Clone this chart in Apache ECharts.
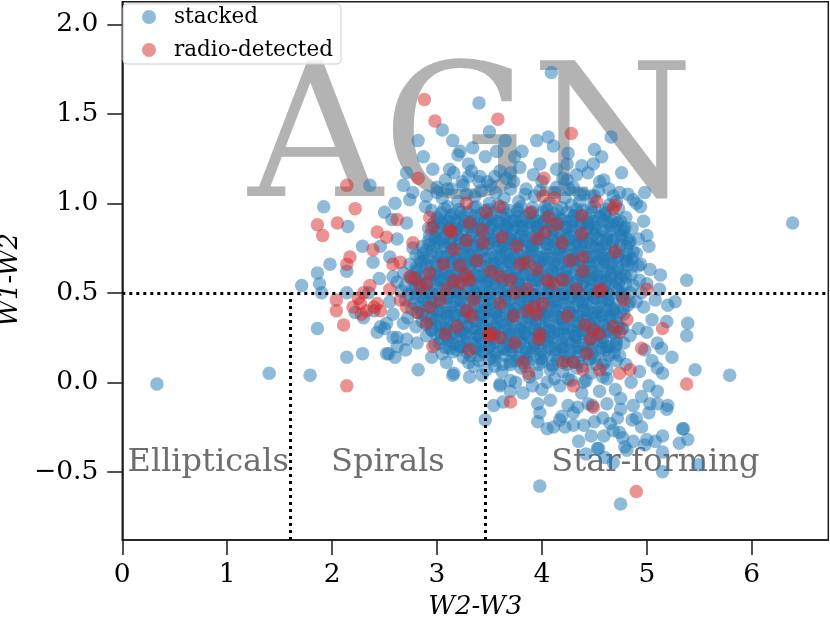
<!DOCTYPE html>
<html lang="en">
<head>
    <meta charset="UTF-8">
    <title>WISE colour-colour diagram</title>
    <script src="https://cdn.jsdelivr.net/npm/echarts@6/dist/echarts.min.js"></script>
    <style>
        html, body { margin: 0; padding: 0; background: #fff; }
        #main { width: 830px; height: 617px; }
    </style>
</head>
<body>
<div id="main"></div>
<script>
// values: [W2-W3, W1-W2]
const stackedCore = [
    [3.05,1.03],[3.2,1.01],[3.36,1.04],[3.5,1.0],[3.64,1.03],[3.78,1.01],[3.93,1.04],[4.07,1.0],[4.22,1.03],[4.36,1.01],[4.5,1.04],[4.64,0.99],
    [2.95,0.96],[3.1,0.98],[3.23,0.95],[3.37,0.98],[3.46,0.96],[3.58,0.99],[3.69,0.96],[3.8,0.98],[3.91,0.95],[4.03,0.98],[4.15,0.96],[4.28,0.99],[4.39,0.96],[4.5,0.98],[4.61,0.95],[4.73,0.97],
    [3.01,0.91],[3.13,0.93],[3.26,0.9],[3.36,0.93],[3.49,0.91],[3.61,0.93],[3.72,0.9],[3.84,0.92],[3.95,0.9],[4.07,0.93],[4.19,0.91],[4.31,0.93],[4.43,0.9],[4.55,0.92],[4.67,0.9],[4.8,0.92],
    [2.92,0.86],[3.06,0.88],[3.18,0.85],[3.3,0.87],[3.42,0.86],[3.53,0.88],[3.65,0.85],[3.76,0.87],[3.88,0.86],[3.99,0.88],[4.11,0.85],[4.23,0.87],[4.35,0.86],[4.46,0.88],[4.58,0.85],[4.7,0.87],[4.86,0.86],
    [2.98,0.81],[3.1,0.83],[3.22,0.8],[3.34,0.82],[3.46,0.81],[3.58,0.83],[3.69,0.8],[3.8,0.82],[3.92,0.81],[4.04,0.83],[4.16,0.8],[4.27,0.82],[4.39,0.81],[4.51,0.83],[4.62,0.8],[4.76,0.82],[4.92,0.8],
    [2.86,0.76],[3.02,0.78],[3.14,0.75],[3.27,0.77],[3.38,0.76],[3.5,0.78],[3.62,0.75],[3.73,0.77],[3.85,0.76],[3.97,0.78],[4.08,0.75],[4.2,0.77],[4.32,0.76],[4.43,0.78],[4.55,0.75],[4.67,0.77],[4.81,0.76],
    [2.8,0.71],[2.95,0.73],[3.08,0.7],[3.2,0.72],[3.31,0.71],[3.43,0.73],[3.55,0.7],[3.66,0.72],[3.78,0.71],[3.9,0.73],[4.01,0.7],[4.13,0.72],[4.25,0.71],[4.36,0.73],[4.48,0.7],[4.6,0.72],[4.73,0.71],[4.87,0.73],
    [2.74,0.66],[2.88,0.68],[3.0,0.65],[3.13,0.67],[3.24,0.66],[3.36,0.68],[3.48,0.65],[3.6,0.67],[3.71,0.66],[3.83,0.68],[3.95,0.65],[4.06,0.67],[4.18,0.66],[4.3,0.68],[4.41,0.65],[4.53,0.67],[4.65,0.66],[4.79,0.68],[4.94,0.66],
    [2.68,0.61],[2.82,0.63],[2.96,0.6],[3.08,0.62],[3.19,0.61],[3.31,0.63],[3.42,0.6],[3.54,0.62],[3.66,0.61],[3.77,0.63],[3.89,0.6],[4.0,0.62],[4.12,0.61],[4.24,0.63],[4.36,0.6],[4.47,0.62],[4.59,0.61],[4.72,0.63],[4.85,0.6],
    [2.62,0.56],[2.76,0.58],[2.9,0.55],[3.03,0.57],[3.14,0.56],[3.26,0.58],[3.37,0.55],[3.49,0.57],[3.61,0.56],[3.72,0.58],[3.84,0.55],[3.96,0.57],[4.07,0.56],[4.19,0.58],[4.31,0.55],[4.42,0.57],[4.54,0.56],[4.66,0.58],[4.8,0.55],[4.93,0.57],
    [2.66,0.51],[2.8,0.53],[2.93,0.5],[3.06,0.52],[3.18,0.51],[3.3,0.53],[3.41,0.5],[3.53,0.52],[3.65,0.51],[3.76,0.53],[3.88,0.5],[4.0,0.52],[4.11,0.51],[4.23,0.53],[4.35,0.5],[4.46,0.52],[4.58,0.51],[4.7,0.53],[4.84,0.5],
    [2.7,0.46],[2.85,0.48],[2.98,0.45],[3.1,0.47],[3.22,0.46],[3.34,0.48],[3.46,0.45],[3.58,0.47],[3.69,0.46],[3.81,0.48],[3.93,0.45],[4.04,0.47],[4.16,0.46],[4.28,0.48],[4.39,0.45],[4.51,0.47],[4.63,0.46],[4.76,0.48],[4.9,0.45],
    [2.76,0.41],[2.9,0.43],[3.03,0.4],[3.15,0.42],[3.27,0.41],[3.39,0.43],[3.51,0.4],[3.63,0.42],[3.74,0.41],[3.86,0.43],[3.98,0.4],[4.09,0.42],[4.21,0.41],[4.33,0.43],[4.44,0.4],[4.56,0.42],[4.68,0.41],[4.82,0.43],
    [2.72,0.36],[2.86,0.38],[2.99,0.35],[3.11,0.37],[3.23,0.36],[3.35,0.38],[3.47,0.35],[3.59,0.37],[3.7,0.36],[3.82,0.38],[3.94,0.35],[4.05,0.37],[4.17,0.36],[4.29,0.38],[4.4,0.35],[4.52,0.37],[4.64,0.36],[4.78,0.38],
    [2.8,0.31],[2.94,0.33],[3.07,0.3],[3.19,0.32],[3.31,0.31],[3.43,0.33],[3.55,0.3],[3.66,0.32],[3.78,0.31],[3.9,0.33],[4.01,0.3],[4.13,0.32],[4.25,0.31],[4.36,0.33],[4.48,0.3],[4.6,0.32],[4.73,0.31],
    [2.9,0.26],[3.03,0.28],[3.15,0.25],[3.27,0.27],[3.39,0.26],[3.51,0.28],[3.62,0.25],[3.74,0.27],[3.86,0.26],[3.97,0.28],[4.09,0.25],[4.21,0.27],[4.32,0.26],[4.44,0.28],[4.56,0.25],[4.69,0.27],[4.84,0.26],
    [2.98,0.21],[3.11,0.23],[3.23,0.2],[3.35,0.22],[3.47,0.21],[3.58,0.23],[3.7,0.2],[3.82,0.22],[3.93,0.21],[4.05,0.23],[4.17,0.2],[4.28,0.22],[4.4,0.21],[4.52,0.23],[4.65,0.2],[4.78,0.22],
    [3.05,0.16],[3.19,0.18],[3.32,0.15],[3.44,0.17],[3.55,0.16],[3.67,0.18],[3.79,0.15],[3.9,0.17],[4.02,0.16],[4.13,0.18],[4.25,0.15],[4.36,0.17],[4.48,0.16],[4.61,0.18],[4.74,0.15],
    [3.3,0.11],[3.5,0.13],[3.63,0.1],[3.75,0.12],[3.87,0.11],[3.99,0.13],[4.1,0.1],[4.22,0.12],[4.34,0.11],[4.46,0.13],[4.58,0.1],[4.71,0.12],
    [3.62,0.06],[3.8,0.08],[3.95,0.05],[4.08,0.07],[4.2,0.06],[4.33,0.08],[4.47,0.05],[4.62,0.07],
    [3.7,0.01],[3.88,0.03],[4.05,0.0],[4.25,0.02],[4.42,0.01],[4.58,0.03]
];

const stackedCoreInner = [
    [3.04,0.945],[3.16,0.94],[3.29,0.95],[3.42,0.94],[3.54,0.95],[3.66,0.94],[3.77,0.95],[3.89,0.94],[4.01,0.95],[4.12,0.94],[4.24,0.95],[4.36,0.94],[4.48,0.95],[4.6,0.94],
    [2.97,0.89],[3.1,0.9],[3.22,0.89],[3.33,0.9],[3.45,0.89],[3.57,0.9],[3.68,0.89],[3.8,0.9],[3.92,0.89],[4.03,0.9],[4.15,0.89],[4.27,0.9],[4.39,0.89],[4.5,0.9],[4.63,0.89],[4.75,0.9],
    [3.0,0.84],[3.12,0.85],[3.24,0.84],[3.36,0.85],[3.48,0.84],[3.59,0.85],[3.71,0.84],[3.82,0.85],[3.94,0.84],[4.05,0.85],[4.17,0.84],[4.29,0.85],[4.41,0.84],[4.52,0.85],[4.64,0.84],[4.78,0.85],
    [2.92,0.79],[3.04,0.8],[3.16,0.79],[3.28,0.8],[3.4,0.79],[3.52,0.8],[3.63,0.79],[3.75,0.8],[3.86,0.79],[3.98,0.8],[4.1,0.79],[4.22,0.8],[4.33,0.79],[4.45,0.8],[4.57,0.79],[4.69,0.8],[4.84,0.79],
    [2.9,0.74],[3.08,0.75],[3.2,0.74],[3.32,0.75],[3.44,0.74],[3.56,0.75],[3.67,0.74],[3.79,0.75],[3.91,0.74],[4.02,0.75],[4.14,0.74],[4.26,0.75],[4.38,0.74],[4.49,0.75],[4.61,0.74],[4.74,0.75],
    [2.84,0.69],[3.01,0.7],[3.14,0.69],[3.26,0.7],[3.37,0.69],[3.49,0.7],[3.61,0.69],[3.72,0.7],[3.84,0.69],[3.96,0.7],[4.07,0.69],[4.19,0.7],[4.31,0.69],[4.42,0.7],[4.54,0.69],[4.66,0.7],[4.8,0.69],
    [2.8,0.64],[2.94,0.65],[3.07,0.64],[3.19,0.65],[3.3,0.64],[3.42,0.65],[3.54,0.64],[3.65,0.65],[3.77,0.64],[3.89,0.65],[4.0,0.64],[4.12,0.65],[4.24,0.64],[4.36,0.65],[4.47,0.64],[4.59,0.65],[4.72,0.64],[4.86,0.65],
    [2.75,0.59],[2.89,0.6],[3.02,0.59],[3.14,0.6],[3.25,0.59],[3.37,0.6],[3.48,0.59],[3.6,0.6],[3.72,0.59],[3.83,0.6],[3.95,0.59],[4.06,0.6],[4.18,0.59],[4.3,0.6],[4.42,0.59],[4.53,0.6],[4.65,0.59],[4.78,0.6],
    [2.7,0.54],[2.83,0.55],[2.97,0.54],[3.09,0.55],[3.2,0.54],[3.32,0.55],[3.43,0.54],[3.55,0.55],[3.67,0.54],[3.78,0.55],[3.9,0.54],[4.02,0.55],[4.13,0.54],[4.25,0.55],[4.37,0.54],[4.48,0.55],[4.6,0.54],[4.73,0.55],[4.87,0.54],
    [2.73,0.49],[2.87,0.5],[3.0,0.49],[3.12,0.5],[3.24,0.49],[3.36,0.5],[3.47,0.49],[3.59,0.5],[3.71,0.49],[3.82,0.5],[3.94,0.49],[4.06,0.5],[4.17,0.49],[4.29,0.5],[4.41,0.49],[4.52,0.5],[4.64,0.49],[4.77,0.5],
    [2.78,0.44],[2.92,0.45],[3.04,0.44],[3.16,0.45],[3.28,0.44],[3.4,0.45],[3.52,0.44],[3.64,0.45],[3.75,0.44],[3.87,0.45],[3.99,0.44],[4.1,0.45],[4.22,0.44],[4.34,0.45],[4.45,0.44],[4.57,0.45],[4.7,0.44],[4.84,0.45],
    [2.82,0.39],[2.96,0.4],[3.09,0.39],[3.21,0.4],[3.33,0.39],[3.45,0.4],[3.57,0.39],[3.69,0.4],[3.8,0.39],[3.92,0.4],[4.04,0.39],[4.15,0.4],[4.27,0.39],[4.39,0.4],[4.5,0.39],[4.62,0.4],[4.75,0.39],
    [2.86,0.34],[3.0,0.35],[3.13,0.34],[3.25,0.35],[3.37,0.34],[3.49,0.35],[3.61,0.34],[3.72,0.35],[3.84,0.34],[3.96,0.35],[4.07,0.34],[4.19,0.35],[4.31,0.34],[4.42,0.35],[4.54,0.34],[4.66,0.35],
    [2.95,0.29],[3.09,0.3],[3.21,0.29],[3.33,0.3],[3.45,0.29],[3.57,0.3],[3.68,0.29],[3.8,0.3],[3.92,0.29],[4.03,0.3],[4.15,0.29],[4.27,0.3],[4.38,0.29],[4.5,0.3],[4.62,0.29],[4.76,0.3],
    [3.04,0.24],[3.17,0.25],[3.29,0.24],[3.41,0.25],[3.53,0.24],[3.64,0.25],[3.76,0.24],[3.88,0.25],[3.99,0.24],[4.11,0.25],[4.23,0.24],[4.34,0.25],[4.46,0.24],[4.58,0.25],[4.71,0.24],
    [3.12,0.19],[3.26,0.2],[3.38,0.19],[3.5,0.2],[3.62,0.19],[3.73,0.2],[3.85,0.19],[3.96,0.2],[4.08,0.19],[4.2,0.2],[4.32,0.19],[4.44,0.2],[4.57,0.19],[4.7,0.2],
    [3.25,0.14],[3.4,0.15],[3.53,0.14],[3.65,0.15],[3.77,0.14],[3.88,0.15],[4.0,0.14],[4.12,0.15],[4.24,0.14],[4.36,0.15],[4.5,0.14],[4.64,0.15],
    [3.55,0.09],[3.7,0.1],[3.84,0.09],[3.97,0.1],[4.1,0.09],[4.24,0.1],[4.38,0.09],[4.52,0.1]
];

const stackedCentre = [
    [3.03,0.86],[3.19,0.86],[3.34,0.87],[3.5,0.86],[3.65,0.87],[3.81,0.86],[3.96,0.87],[4.12,0.86],[4.27,0.87],[4.43,0.86],
    [2.97,0.76],[3.12,0.77],[3.28,0.76],[3.43,0.77],[3.59,0.76],[3.74,0.77],[3.9,0.76],[4.05,0.77],[4.21,0.76],[4.36,0.77],[4.52,0.76],
    [2.9,0.66],[3.06,0.67],[3.21,0.66],[3.37,0.67],[3.52,0.66],[3.68,0.67],[3.83,0.66],[3.99,0.67],[4.14,0.66],[4.3,0.67],[4.45,0.66],[4.61,0.67],
    [2.85,0.56],[3.0,0.57],[3.16,0.56],[3.31,0.57],[3.47,0.56],[3.62,0.57],[3.78,0.56],[3.93,0.57],[4.09,0.56],[4.24,0.57],[4.4,0.56],[4.55,0.57],[4.7,0.56],
    [2.88,0.46],[3.03,0.47],[3.19,0.46],[3.34,0.47],[3.5,0.46],[3.65,0.47],[3.81,0.46],[3.96,0.47],[4.12,0.46],[4.27,0.47],[4.43,0.46],[4.58,0.47],
    [2.95,0.36],[3.1,0.37],[3.26,0.36],[3.41,0.37],[3.57,0.36],[3.72,0.37],[3.88,0.36],[4.03,0.37],[4.19,0.36],[4.34,0.37],[4.5,0.36],[4.65,0.37],
    [3.08,0.26],[3.23,0.27],[3.39,0.26],[3.54,0.27],[3.7,0.26],[3.85,0.27],[4.01,0.26],[4.16,0.27],[4.32,0.26],[4.47,0.27]
];

const stackedDense = [
    [3.0,0.92],[3.13,0.915],[3.26,0.925],[3.39,0.915],[3.52,0.925],[3.65,0.915],[3.78,0.925],[3.91,0.915],[4.04,0.925],[4.17,0.915],[4.3,0.925],[4.43,0.915],[4.56,0.925],[4.69,0.915],
    [2.93,0.82],[3.06,0.815],[3.19,0.825],[3.32,0.815],[3.45,0.825],[3.58,0.815],[3.71,0.825],[3.84,0.815],[3.97,0.825],[4.1,0.815],[4.23,0.825],[4.36,0.815],[4.49,0.825],[4.62,0.815],[4.75,0.825],
    [2.87,0.72],[3.0,0.715],[3.13,0.725],[3.26,0.715],[3.39,0.725],[3.52,0.715],[3.65,0.725],[3.78,0.715],[3.91,0.725],[4.04,0.715],[4.17,0.725],[4.3,0.715],[4.43,0.725],[4.56,0.715],[4.69,0.725],[4.82,0.715],
    [2.8,0.62],[2.93,0.615],[3.06,0.625],[3.19,0.615],[3.32,0.625],[3.45,0.615],[3.58,0.625],[3.71,0.615],[3.84,0.625],[3.97,0.615],[4.1,0.625],[4.23,0.615],[4.36,0.625],[4.49,0.615],[4.62,0.625],[4.75,0.615],
    [2.77,0.52],[2.9,0.515],[3.03,0.525],[3.16,0.515],[3.29,0.525],[3.42,0.515],[3.55,0.525],[3.68,0.515],[3.81,0.525],[3.94,0.515],[4.07,0.525],[4.2,0.515],[4.33,0.525],[4.46,0.515],[4.59,0.525],[4.72,0.515],
    [2.83,0.42],[2.96,0.415],[3.09,0.425],[3.22,0.415],[3.35,0.425],[3.48,0.415],[3.61,0.425],[3.74,0.415],[3.87,0.425],[4.0,0.415],[4.13,0.425],[4.26,0.415],[4.39,0.425],[4.52,0.415],[4.65,0.425],[4.78,0.415],
    [2.9,0.32],[3.03,0.315],[3.16,0.325],[3.29,0.315],[3.42,0.325],[3.55,0.315],[3.68,0.325],[3.81,0.315],[3.94,0.325],[4.07,0.315],[4.2,0.325],[4.33,0.315],[4.46,0.325],[4.59,0.315],[4.72,0.325],
    [3.02,0.22],[3.15,0.215],[3.28,0.225],[3.41,0.215],[3.54,0.225],[3.67,0.215],[3.8,0.225],[3.93,0.215],[4.06,0.225],[4.19,0.215],[4.32,0.225],[4.45,0.215],[4.58,0.225],[4.71,0.215],
    [3.4,0.12],[3.55,0.125],[3.7,0.115],[3.85,0.125],[4.0,0.115],[4.15,0.125],[4.3,0.115],[4.45,0.125],[4.6,0.115]
];

const stackedDeep = [
    [3.07,0.97],[3.21,0.965],[3.35,0.975],[3.49,0.965],[3.63,0.975],[3.77,0.965],[3.91,0.975],[4.05,0.965],[4.19,0.975],[4.33,0.965],[4.47,0.975],[4.61,0.965],
    [2.97,0.87],[3.11,0.865],[3.25,0.875],[3.39,0.865],[3.53,0.875],[3.67,0.865],[3.81,0.875],[3.95,0.865],[4.09,0.875],[4.23,0.865],[4.37,0.875],[4.51,0.865],[4.65,0.875],[4.79,0.865],
    [2.93,0.77],[3.07,0.765],[3.21,0.775],[3.35,0.765],[3.49,0.775],[3.63,0.765],[3.77,0.775],[3.91,0.765],[4.05,0.775],[4.19,0.765],[4.33,0.775],[4.47,0.765],[4.61,0.775],[4.75,0.765],
    [2.85,0.67],[2.99,0.665],[3.13,0.675],[3.27,0.665],[3.41,0.675],[3.55,0.665],[3.69,0.675],[3.83,0.665],[3.97,0.675],[4.11,0.665],[4.25,0.675],[4.39,0.665],[4.53,0.675],[4.67,0.665],[4.81,0.675],
    [2.79,0.57],[2.93,0.565],[3.07,0.575],[3.21,0.565],[3.35,0.575],[3.49,0.565],[3.63,0.575],[3.77,0.565],[3.91,0.575],[4.05,0.565],[4.19,0.575],[4.33,0.565],[4.47,0.575],[4.61,0.565],[4.75,0.575],
    [2.81,0.47],[2.95,0.465],[3.09,0.475],[3.23,0.465],[3.37,0.475],[3.51,0.465],[3.65,0.475],[3.79,0.465],[3.93,0.475],[4.07,0.465],[4.21,0.475],[4.35,0.465],[4.49,0.475],[4.63,0.465],[4.77,0.475],
    [2.89,0.37],[3.03,0.365],[3.17,0.375],[3.31,0.365],[3.45,0.375],[3.59,0.365],[3.73,0.375],[3.87,0.365],[4.01,0.375],[4.15,0.365],[4.29,0.375],[4.43,0.365],[4.57,0.375],[4.71,0.365],
    [2.99,0.27],[3.13,0.265],[3.27,0.275],[3.41,0.265],[3.55,0.275],[3.69,0.265],[3.83,0.275],[3.97,0.265],[4.11,0.275],[4.25,0.265],[4.39,0.275],[4.53,0.265],[4.67,0.275],
    [3.15,0.17],[3.29,0.165],[3.43,0.175],[3.57,0.165],[3.71,0.175],[3.85,0.165],[3.99,0.175],[4.13,0.165],[4.27,0.175],[4.41,0.165],[4.55,0.175],[4.69,0.165],
    [3.04,0.895],[3.18,0.9],[3.32,0.89],[3.46,0.9],[3.6,0.89],[3.74,0.9],[3.88,0.89],[4.02,0.9],[4.16,0.89],[4.3,0.9],[4.44,0.89],[4.58,0.9],[4.72,0.89],
    [2.99,0.795],[3.13,0.8],[3.27,0.79],[3.41,0.8],[3.55,0.79],[3.69,0.8],[3.83,0.79],[3.97,0.8],[4.11,0.79],[4.25,0.8],[4.39,0.79],[4.53,0.8],[4.67,0.79],[4.81,0.8],
    [2.9,0.695],[3.04,0.7],[3.18,0.69],[3.32,0.7],[3.46,0.69],[3.6,0.7],[3.74,0.69],[3.88,0.7],[4.02,0.69],[4.16,0.7],[4.3,0.69],[4.44,0.7],[4.58,0.69],[4.72,0.7],[4.86,0.69],
    [2.84,0.595],[2.98,0.6],[3.12,0.59],[3.26,0.6],[3.4,0.59],[3.54,0.6],[3.68,0.59],[3.82,0.6],[3.96,0.59],[4.1,0.6],[4.24,0.59],[4.38,0.6],[4.52,0.59],[4.66,0.6],[4.8,0.59],
    [2.8,0.495],[2.94,0.5],[3.08,0.49],[3.22,0.5],[3.36,0.49],[3.5,0.5],[3.64,0.49],[3.78,0.5],[3.92,0.49],[4.06,0.5],[4.2,0.49],[4.34,0.5],[4.48,0.49],[4.62,0.5],[4.76,0.49],
    [2.86,0.395],[3.0,0.4],[3.14,0.39],[3.28,0.4],[3.42,0.39],[3.56,0.4],[3.7,0.39],[3.84,0.4],[3.98,0.39],[4.12,0.4],[4.26,0.39],[4.4,0.4],[4.54,0.39],[4.68,0.4],
    [2.95,0.295],[3.09,0.3],[3.23,0.29],[3.37,0.3],[3.51,0.29],[3.65,0.3],[3.79,0.29],[3.93,0.3],[4.07,0.29],[4.21,0.3],[4.35,0.29],[4.49,0.3],[4.63,0.29],[4.77,0.3],
    [3.08,0.195],[3.22,0.2],[3.36,0.19],[3.5,0.2],[3.64,0.19],[3.78,0.2],[3.92,0.19],[4.06,0.2],[4.2,0.19],[4.34,0.2],[4.48,0.19],[4.62,0.2]
];

const stackedUpper = [
    [3.0,1.06],[3.14,1.08],[3.28,1.05],[3.42,1.07],[3.56,1.06],[3.7,1.08],[3.84,1.05],[3.98,1.07],[4.12,1.06],[4.26,1.08],[4.4,1.05],[4.54,1.07],[4.68,1.04],
    [3.08,1.13],[3.3,1.15],[3.48,1.12],[3.66,1.14],[3.92,1.16],[4.2,1.14],[4.44,1.17]
];

const stackedOuter = [
    [0.33,-0.01],[1.40,0.05],[1.79,0.04],[1.71,0.54],[1.98,0.66],[1.86,0.61],[1.88,0.55],[1.90,0.50],[1.86,0.30],
    [2.14,0.14],[2.29,0.16],[2.14,0.62],[2.14,0.50],[2.29,0.76],[2.39,0.67],[2.60,0.14],[2.82,0.07],[2.52,0.16],[2.46,0.31],
    [2.22,0.39],[2.43,0.28],[2.52,0.33],[2.58,0.25],[2.62,0.20],[2.54,0.16],[2.71,0.24],[2.81,0.22],[2.95,0.14],[3.09,0.11],
    [3.16,0.05],[3.35,0.09],[3.47,0.07],[3.60,-0.01],[3.15,0.04],[3.31,0.03],[3.43,0.04],
    [2.35,0.50],[2.45,0.58],[2.40,0.40],[2.55,0.45],[2.50,0.30],[2.62,0.25],[2.70,0.18],[2.58,0.38],[2.30,0.36],[2.68,0.33],
    [1.92,0.98],[2.15,0.87],[2.36,1.10],[2.57,0.91],[2.68,1.10],[2.71,1.17],[2.77,1.06],[2.74,1.02],[2.60,1.00],[2.50,0.95],[2.62,0.80],[2.55,0.70],
    [2.46,0.76],[2.58,0.59],[2.77,0.75],[2.71,0.89],[2.89,0.98],[2.87,1.26],[2.90,1.04],[3.00,1.09],[2.96,1.19],[2.82,1.35],
    [3.40,1.56],[3.05,1.41],[3.34,1.31],[3.22,1.29],[3.12,1.19],[3.20,1.27],[3.30,1.22],[3.16,1.17],[3.33,1.18],[3.24,1.12],
    [3.41,1.15],[3.51,1.10],[3.60,1.18],[3.73,1.12],[3.79,1.20],[3.98,1.22],[4.14,1.19],[4.33,1.16],[4.59,1.13],[4.74,1.06],
    [3.46,1.26],[3.57,1.29],[3.74,1.26],[3.81,1.29],[3.95,1.35],[4.06,1.37],[4.11,1.32],[3.65,1.35],[3.50,1.40],[3.15,1.35],
    [4.24,1.22],[4.38,1.21],[4.49,1.22],[4.57,1.26],[4.64,1.08],[4.76,1.17],[4.98,1.06],[4.24,1.13],[4.14,1.09],[4.30,1.09],
    [4.36,1.05],[4.47,1.04],[4.87,1.02],[4.94,0.98],[4.09,1.73],[4.66,1.37],[4.25,1.28],[4.50,1.30],[4.71,1.01],[6.39,0.89],
    [3.10,1.08],[3.25,1.10],[3.40,1.12],[3.55,1.15],[3.70,1.17],[3.85,1.08],[4.00,1.12],[4.55,1.12],[4.82,1.05],[4.90,1.00],
    [5.00,0.82],[5.02,0.76],[4.83,0.78],[4.75,0.85],[4.90,0.72],[4.82,0.66],[5.13,0.60],[5.38,0.57],[5.03,0.63],[4.97,0.90],
    [4.92,0.65],[4.95,0.50],[5.00,0.55],[5.08,0.46],[5.12,0.52],[4.97,0.42],[4.92,0.30],[5.00,0.28],[5.05,0.35],[5.10,0.22],
    [5.05,0.12],[4.98,0.18],[5.15,0.05],[5.20,0.43],[5.27,0.45],[5.39,0.33],[5.38,0.26],[5.19,0.34],[5.24,0.14],[5.14,0.19],
    [5.46,0.07],[5.79,0.04],[5.10,0.08],[4.80,0.10],[4.93,0.06],[4.85,0.00],[4.70,-0.04],[4.62,0.02],[4.55,-0.05],[4.40,0.00],
    [4.38,-0.06],[4.28,0.01],[4.12,0.02],[4.00,-0.04],[3.82,-0.06],[3.75,0.00],[3.70,-0.05],[3.91,-0.02],[4.17,-0.02],[4.95,-0.08],
    [5.20,-0.13],[5.19,-0.15],[5.10,-0.12],[5.03,-0.12],[5.02,-0.17],[4.87,-0.13],[4.86,-0.21],[4.75,-0.15],[4.75,-0.09],[5.10,-0.05],
    [5.02,-0.02],[5.35,-0.26],[5.39,-0.32],[5.31,-0.34],[5.15,-0.30],[5.08,-0.33],[5.15,-0.39],[4.98,-0.35],[4.87,-0.33],[4.81,-0.38],
    [4.77,-0.31],[4.68,-0.27],[4.59,-0.30],[4.47,-0.30],[4.53,-0.37],[5.15,-0.50],[5.49,-0.46],[3.98,-0.58],[4.75,-0.68],[4.05,-0.26],
    [3.96,-0.22],[3.98,-0.17],[4.22,-0.25],[4.30,-0.24],[4.19,-0.19],[4.34,-0.14],[4.44,-0.12],[4.58,-0.20],[4.65,-0.23],[3.46,-0.21],
    [3.54,-0.13],[3.63,-0.11],[3.96,-0.12],[4.08,-0.10],[4.25,-0.13],[3.60,-0.02],[4.48,-0.13],[4.68,-0.45],[4.54,-0.37],[5.34,-0.26],
    [4.90,-0.20],[4.95,-0.25],[4.72,-0.20],[4.62,-0.12],[4.50,-0.22],[4.40,-0.24],[4.35,-0.33],[4.60,-0.42],[4.42,-0.40],[4.79,-0.36],
    [4.74,-0.28],[5.00,-0.32],[4.11,-0.25],[4.17,-0.21],[4.30,-0.17]
];

const radioDetected = [
    [2.88,1.58],[2.98,1.46],[3.58,1.47],[4.28,1.39],[2.82,1.14],[2.14,1.10],[4.02,1.14],[4.12,1.03],[4.01,1.04],
    [2.22,0.97],[1.86,0.88],[1.91,0.82],[2.05,0.89],[2.43,0.84],[2.52,0.81],[2.62,0.91],[2.39,0.74],[2.17,0.70],[2.14,0.66],
    [2.77,0.78],[2.58,0.66],[2.65,0.67],[2.93,0.92],[2.95,0.86],[3.14,0.84],[3.16,0.74],[3.28,0.79],[3.31,0.89],[3.43,0.85],
    [3.44,0.78],[3.47,0.95],[3.60,0.98],[3.62,0.81],[3.89,0.95],[4.03,0.84],[4.06,0.92],[4.14,0.88],[4.19,0.78],[4.38,0.83],
    [4.38,0.93],[4.52,1.01],[4.68,0.97],[4.70,0.99],[4.70,0.73],[3.28,1.00],[3.12,0.85],[3.76,0.76],[3.95,0.80],[4.27,0.68],
    [4.39,0.62],[4.39,0.70],[2.36,0.54],[2.46,0.40],[2.43,0.44],[2.04,0.46],[2.04,0.40],[2.11,0.32],[2.27,0.44],[2.33,0.40],
    [2.30,0.50],[2.25,0.47],[2.40,0.42],[2.20,0.42],[2.28,0.38],[2.55,0.52],[2.65,0.46],[2.71,0.42],[2.81,0.39],[2.93,0.42],
    [3.03,0.46],[3.09,0.52],[3.16,0.57],[3.22,0.55],[3.31,0.57],[3.35,0.46],[3.33,0.37],[2.90,0.33],[2.96,0.20],[3.08,0.27],
    [3.19,0.31],[3.28,0.40],[2.84,0.53],[2.93,0.61],[3.06,0.66],[3.22,0.65],[3.28,0.60],[3.38,0.68],[3.51,0.62],[3.60,0.59],
    [3.70,0.57],[3.74,0.50],[3.60,0.44],[3.73,0.37],[3.52,0.27],[3.60,0.25],[3.74,0.22],[3.79,0.66],[3.86,0.67],[3.95,0.63],
    [4.05,0.57],[3.86,0.52],[3.92,0.42],[3.86,0.40],[3.95,0.38],[3.98,0.27],[3.97,0.24],[4.01,0.44],[4.11,0.55],[4.20,0.57],
    [4.24,0.37],[4.41,0.32],[4.49,0.29],[4.55,0.27],[4.57,0.52],[4.68,0.31],[4.74,0.28],[4.78,0.46],[4.81,0.35],[4.95,0.19],
    [5.00,0.52],[4.43,0.16],[4.46,0.24],[4.20,0.11],[4.30,0.11],[4.39,0.07],[3.82,0.11],[3.87,0.05],[4.55,0.07],[4.74,0.05],
    [4.84,0.07],[4.30,-0.02],[4.49,-0.14],[3.70,-0.11],[3.31,0.18],[3.49,0.27],[2.79,0.58],[2.90,0.55],[2.74,0.59],[4.33,0.52],
    [4.54,0.51],[5.15,0.30],[5.38,-0.01],[4.90,-0.61],[2.14,-0.02],[3.50,0.26]
];

const xTicks = [0, 1, 2, 3, 4, 5, 6];
const yTicks = [-0.5, 0, 0.5, 1, 1.5, 2];
const xRange = [0, 6.73];
const yRange = [-0.881, 2.126];

// dividing lines: W1-W2 = 0.5 (AGN), W2-W3 = 1.6 and 3.46
const agnCut = 0.5;
const ellipticalCut = 1.6;
const spiralCut = 3.46;

// region labels, anchored at the text baseline in data units
const regionLabels = [
    { text: 'AGN', at: [3.324, 1.024], size: 186, color: '#b3b3b3', align: 'center' },
    { text: 'Ellipticals', at: [0.05, -0.5], size: 32, color: '#6e6e6e', align: 'left' },
    { text: 'Spirals', at: [1.99, -0.5], size: 32, color: '#6e6e6e', align: 'left' },
    { text: 'Star-forming', at: [4.09, -0.5], size: 32, color: '#6e6e6e', align: 'left' }
];

const serif = "'DejaVu Serif', serif";
const ink = '#1a1a1a';

var chartDom = document.getElementById('main');
var myChart = echarts.init(chartDom, null, { renderer: 'canvas' });

var option = {
    animation: false,
    backgroundColor: '#fff',
    grid: {
        left: 122.3, right: 1.7, top: 1.7, bottom: 77,
        outerBoundsMode: 'none',
        containLabel: false,
        show: true, borderColor: ink, borderWidth: 1.5, backgroundColor: 'transparent'
    },
    legend: {
        orient: 'vertical',
        left: 123, top: 4,
        padding: [0, 8, 1, 19],
        itemGap: 7,
        itemWidth: 14, itemHeight: 14,
        icon: 'circle',
        itemStyle: { opacity: 0.5 },
        backgroundColor: 'rgba(255,255,255,0.8)',
        borderColor: '#cfcfcf', borderWidth: 1, borderRadius: 4,
        textStyle: { fontFamily: serif, fontSize: 21.5, color: '#000', lineHeight: 26, padding: [0, 0, 0, 13] },
        data: ['stacked', 'radio-detected']
    },
    xAxis: {
        type: 'value',
        min: xRange[0], max: xRange[1],
        name: 'W2-W3', nameLocation: 'middle', nameGap: 53,
        nameTextStyle: { fontFamily: serif, fontStyle: 'italic', fontSize: 26, color: '#000' },
        axisLine: { show: true, onZero: false, lineStyle: { color: ink, width: 1.5 } },
        axisTick: { show: true, length: 15, customValues: xTicks, lineStyle: { color: ink, width: 1.5 } },
        axisLabel: { customValues: xTicks, margin: 22, fontFamily: serif, fontSize: 26.5, color: '#000',
            formatter: v => String(v) },
        splitLine: { show: false }
    },
    yAxis: {
        type: 'value',
        min: yRange[0], max: yRange[1],
        name: 'W1-W2', nameLocation: 'middle', nameGap: 97,
        nameTextStyle: { fontFamily: serif, fontStyle: 'italic', fontSize: 26, color: '#000', padding: [0, 18, 0, 0] },
        axisLine: { show: true, onZero: false, lineStyle: { color: ink, width: 1.5 } },
        axisTick: { show: true, length: 15, customValues: yTicks, lineStyle: { color: ink, width: 1.5 } },
        axisLabel: { customValues: yTicks, margin: 24, fontFamily: serif, fontSize: 26.5, color: '#000',
            formatter: v => v.toFixed(1).replace('-', '\u2212') },
        splitLine: { show: false }
    },
    series: [
        {
            name: 'stacked',
            type: 'scatter',
            z: 2,
            symbolSize: 13.5,
            large: false,
            progressive: 0,
            itemStyle: { color: '#1f77b4', opacity: 0.5 },
            emphasis: { disabled: true },
            data: stackedCore.concat(stackedCoreInner, stackedCentre, stackedDense, stackedDeep, stackedUpper, stackedOuter)
        },
        {
            name: 'radio-detected',
            type: 'scatter',
            z: 3,
            symbolSize: 13.5,
            itemStyle: { color: '#d62728', opacity: 0.5 },
            emphasis: { disabled: true },
            data: radioDetected
        },
        {
            name: 'cuts',
            type: 'line',
            z: 6,
            data: [],
            silent: true,
            markLine: {
                silent: true,
                symbol: 'none',
                animation: false,
                label: { show: false },
                lineStyle: { color: '#000', width: 3, type: [3, 4] },
                emphasis: { disabled: true },
                data: [
                    [{ coord: [xRange[0], agnCut] }, { coord: [xRange[1], agnCut] }],
                    [{ coord: [ellipticalCut, yRange[0]] }, { coord: [ellipticalCut, agnCut] }],
                    [{ coord: [spiralCut, yRange[0]] }, { coord: [spiralCut, agnCut] }]
                ]
            }
        }
    ]
};
option && myChart.setOption(option);

// place region labels through the axes' own scales
var labelEls = regionLabels.map(function (l) {
    var p = myChart.convertToPixel({ gridIndex: 0 }, l.at);
    return {
        type: 'text',
        z: 1,
        silent: true,
        x: p[0],
        y: p[1] - 0.278 * l.size,
        style: {
            text: l.text,
            fill: l.color,
            font: l.size + "px 'DejaVu Serif', serif",
            align: l.align,
            verticalAlign: 'middle'
        }
    };
});
myChart.setOption({ graphic: { elements: labelEls } });
</script>
</body>
</html>
